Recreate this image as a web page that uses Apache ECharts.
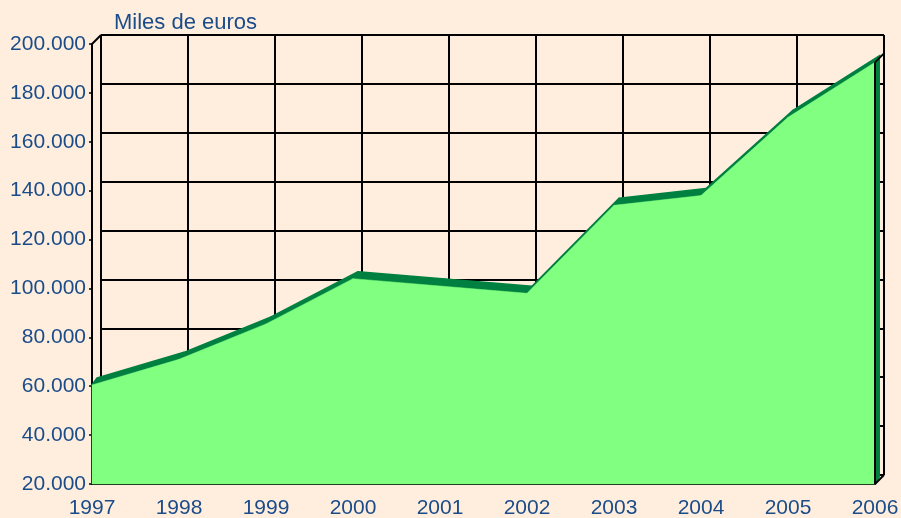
<!DOCTYPE html>
<html lang="es">
<head>
    <meta charset="UTF-8">
    <title>Miles de euros</title>
    <style>
        html, body {
            margin: 0;
            padding: 0;
            background: #FFEEDD;
        }
        #main {
            width: 901px;
            height: 518px;
        }
    </style>
</head>
<body>
<div id="main"></div>

<script src="https://cdn.jsdelivr.net/npm/echarts@6/dist/echarts.min.js"></script>
<script>
    // datos
    var years = ['1997', '1998', '1999', '2000', '2001', '2002', '2003', '2004', '2005', '2006'];
    var values = [60500, 71000, 85500, 104000, 101000, 98000, 134000, 138000, 170000, 192500];
    var yMin = 20000;
    var yMax = 200000;
    var yStep = 20000;

    var textColor = '#1B4C8A';
    var lightGreen = '#80FF80';
    var darkGreen = '#008040';
    var font = 'Liberation Sans, Arial, sans-serif';

    // desplazamiento 3D (pared del fondo y profundidad de la serie)
    var wallDx = 9, wallDy = -9;
    var serDx = 5, serDy = -7;

    function fmt(v) {
        return String(v).replace(/\B(?=(\d{3})+(?!\d))/g, '.');
    }

    function shift(p, dx, dy) {
        return [p[0] + dx, p[1] + dy];
    }

    // cada elemento es un tramo entre dos años
    var segments = [];
    for (var i = 0; i < values.length - 1; i++) {
        segments.push([i, values[i]]);
    }

    function renderSegment(params, api) {
        var i = params.dataIndex;
        var p1 = api.coord([i, values[i]]);
        var p2 = api.coord([i + 1, values[i + 1]]);
        var b1 = api.coord([i, yMin]);
        var b2 = api.coord([i + 1, yMin]);
        var children = [];

        // cara superior (oscura)
        children.push({
            type: 'polygon',
            z2: 1,
            shape: {points: [p1, p2, shift(p2, serDx, serDy), shift(p1, serDx, serDy)]},
            style: {fill: darkGreen, stroke: darkGreen, lineWidth: 1.5, lineJoin: 'round'}
        });
        // cara frontal
        children.push({
            type: 'polygon',
            z2: 2,
            shape: {points: [p1, p2, b2, b1]},
            style: {fill: lightGreen, stroke: lightGreen, lineWidth: 0.5}
        });

        if (i === 0) {
            // arista superior izquierda de la caja
            var tl = api.coord([0, yMax]);
            children.push({
                type: 'line',
                z2: 5,
                shape: {x1: tl[0], y1: tl[1], x2: tl[0] + wallDx, y2: tl[1] + wallDy},
                style: {stroke: '#000', lineWidth: 2}
            });
        }
        if (i === values.length - 2) {
            // lado derecho de la serie
            children.push({
                type: 'polygon',
                z2: 3,
                shape: {points: [p2, shift(p2, serDx, serDy), shift(b2, serDx, serDy), b2]},
                style: {fill: darkGreen}
            });
            children.push({
                type: 'line',
                z2: 5,
                shape: {x1: p2[0], y1: p2[1], x2: b2[0], y2: b2[1]},
                style: {stroke: '#000', lineWidth: 2}
            });
            children.push({
                type: 'line',
                z2: 5,
                shape: {x1: p2[0], y1: p2[1], x2: p2[0] + wallDx, y2: p2[1] + wallDy},
                style: {stroke: '#000', lineWidth: 2}
            });
            children.push({
                type: 'line',
                z2: 5,
                shape: {x1: b2[0], y1: b2[1], x2: b2[0] + wallDx, y2: b2[1] + wallDy},
                style: {stroke: '#000', lineWidth: 2}
            });
        }
        return {type: 'group', children: children};
    }

    var myChart = echarts.init(document.getElementById('main'));

    var option = {
        backgroundColor: '#FFEEDD',
        animation: false,
        title: {
            text: 'Miles de euros',
            left: 114,
            top: 12,
            padding: 0,
            textStyle: {
                color: textColor,
                fontSize: 22,
                fontWeight: 'normal',
                fontFamily: font
            }
        },
        grid: [
            // pared del fondo
            {left: 92 + wallDx, right: 26 - wallDx, top: 44 + wallDy, bottom: 34 - wallDy, outerBoundsMode: 'none'},
            // plano frontal
            {left: 92, right: 26, top: 44, bottom: 34, outerBoundsMode: 'none'}
        ],
        xAxis: [
            {
                gridIndex: 0,
                type: 'category',
                data: years,
                boundaryGap: false,
                axisLine: {show: false},
                axisTick: {show: false},
                axisLabel: {show: false},
                splitLine: {show: true, lineStyle: {color: '#000', width: 2}}
            },
            {
                gridIndex: 1,
                type: 'category',
                data: years,
                boundaryGap: false,
                axisLine: {show: true, lineStyle: {color: '#000', width: 2}},
                axisTick: {show: false},
                axisLabel: {
                    color: textColor,
                    fontSize: 21,
                    fontFamily: font,
                    margin: 14,
                    interval: 0
                },
                splitLine: {show: false}
            }
        ],
        yAxis: [
            {
                gridIndex: 0,
                type: 'value',
                min: yMin,
                max: yMax,
                interval: yStep,
                axisLine: {show: false},
                axisTick: {show: false},
                axisLabel: {show: false},
                splitLine: {show: true, lineStyle: {color: '#000', width: 2}}
            },
            {
                gridIndex: 1,
                type: 'value',
                min: yMin,
                max: yMax,
                interval: yStep,
                axisLine: {show: true, lineStyle: {color: '#000', width: 2}},
                axisTick: {show: true, length: 3, lineStyle: {color: '#000', width: 1.5}},
                axisLabel: {
                    color: textColor,
                    fontSize: 21,
                    fontFamily: font,
                    margin: 6,
                    formatter: fmt
                },
                splitLine: {show: false}
            }
        ],
        series: [
            {
                type: 'custom',
                xAxisIndex: 1,
                yAxisIndex: 1,
                renderItem: renderSegment,
                data: segments,
                z: 3
            }
        ]
    };

    myChart.setOption(option);
</script>
</body>
</html>
